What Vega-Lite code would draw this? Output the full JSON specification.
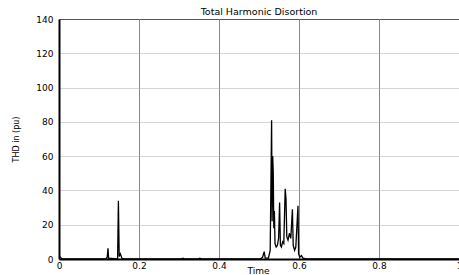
{
  "$schema": "https://vega.github.io/schema/vega-lite/v6.json",
  "width": 400,
  "height": 240,
  "autosize": "none",
  "padding": {"left": 59, "top": 19, "right": 0, "bottom": 16},
  "background": "white",
  "config": {
    "view": {"stroke": "black", "strokeWidth": 1},
    "font": "DejaVu Sans"
  },
  "title": {
    "text": "Total Harmonic Disortion",
    "fontSize": 9.5,
    "fontWeight": "normal",
    "font": "DejaVu Sans",
    "color": "black",
    "anchor": "middle",
    "baseline": "bottom",
    "offset": 3,
    "dy": 14
  },
  "data": {
    "values": [
      {"t": 0, "thd": 2},
      {"t": 0.003, "thd": 1},
      {"t": 0.008, "thd": 0},
      {"t": 0.117, "thd": 0},
      {"t": 0.1205, "thd": 1},
      {"t": 0.1225, "thd": 6.2},
      {"t": 0.124, "thd": 0.5},
      {"t": 0.1465, "thd": 0},
      {"t": 0.1485, "thd": 34},
      {"t": 0.1505, "thd": 1.5},
      {"t": 0.1535, "thd": 3},
      {"t": 0.157, "thd": 0.5},
      {"t": 0.162, "thd": 0},
      {"t": 0.305, "thd": 0},
      {"t": 0.31, "thd": 0.5},
      {"t": 0.315, "thd": 0},
      {"t": 0.347, "thd": 0},
      {"t": 0.352, "thd": 0.5},
      {"t": 0.357, "thd": 0},
      {"t": 0.503, "thd": 0},
      {"t": 0.509, "thd": 1},
      {"t": 0.513, "thd": 4.3},
      {"t": 0.5155, "thd": 0.5},
      {"t": 0.5235, "thd": 0.5},
      {"t": 0.528, "thd": 5},
      {"t": 0.5315, "thd": 81},
      {"t": 0.5328, "thd": 22},
      {"t": 0.5342, "thd": 60},
      {"t": 0.5356, "thd": 51},
      {"t": 0.537, "thd": 18},
      {"t": 0.5385, "thd": 28},
      {"t": 0.540, "thd": 9},
      {"t": 0.543, "thd": 7},
      {"t": 0.546, "thd": 8},
      {"t": 0.549, "thd": 12},
      {"t": 0.5515, "thd": 33},
      {"t": 0.5535, "thd": 8},
      {"t": 0.556, "thd": 7},
      {"t": 0.559, "thd": 10},
      {"t": 0.562, "thd": 9},
      {"t": 0.5655, "thd": 41},
      {"t": 0.5675, "thd": 35},
      {"t": 0.5695, "thd": 13},
      {"t": 0.5725, "thd": 11},
      {"t": 0.576, "thd": 15},
      {"t": 0.5795, "thd": 12},
      {"t": 0.5835, "thd": 29},
      {"t": 0.5855, "thd": 8},
      {"t": 0.589, "thd": 5},
      {"t": 0.592, "thd": 7},
      {"t": 0.5975, "thd": 31},
      {"t": 0.599, "thd": 3},
      {"t": 0.602, "thd": 1},
      {"t": 0.606, "thd": 2},
      {"t": 0.61, "thd": 0.5},
      {"t": 0.618, "thd": 0},
      {"t": 1.0, "thd": 0}
    ]
  },
  "mark": {"type": "line", "color": "black", "strokeWidth": 1.3, "interpolate": "linear"},
  "encoding": {
    "x": {
      "field": "t",
      "type": "quantitative",
      "scale": {"domain": [0, 1], "nice": false, "zero": false},
      "axis": {
        "title": "Time",
        "titleFontSize": 9,
        "titleFontWeight": "normal",
        "titleColor": "black",
        "titleX": 199,
        "titleY": 11,
        "titleBaseline": "middle",
        "titleAlign": "center",
        "values": [0, 0.2, 0.4, 0.6, 0.8, 1],
        "labelExpr": "datum.value == 0 || datum.value == 1 ? format(datum.value, 'd') : format(datum.value, '.1f')",
        "labelFontSize": 9,
        "labelColor": "black",
        "labelPadding": 2,
        "labelOverlap": false,
        "labelBound": false,
        "labelFlush": false,
        "ticks": false,
        "domainColor": "black",
        "domainWidth": 2,
        "grid": true,
        "gridColor": "#888888",
        "gridWidth": 1
      }
    },
    "y": {
      "field": "thd",
      "type": "quantitative",
      "scale": {"domain": [0, 140], "nice": false},
      "axis": {
        "title": "THD in (pu)",
        "titleFontSize": 8,
        "titleFontWeight": "normal",
        "titleColor": "black",
        "titleAngle": -90,
        "titleX": -43,
        "titleY": 120,
        "titleAlign": "center",
        "titleBaseline": "middle",
        "values": [0, 20, 40, 60, 80, 100, 120, 140],
        "labelFontSize": 9,
        "labelColor": "black",
        "labelPadding": 6,
        "labelOverlap": false,
        "labelBound": false,
        "labelFlush": false,
        "ticks": false,
        "domainColor": "black",
        "domainWidth": 2,
        "grid": true,
        "gridColor": "#aaaaaa",
        "gridDash": [1, 1],
        "gridWidth": 1
      }
    }
  }
}
